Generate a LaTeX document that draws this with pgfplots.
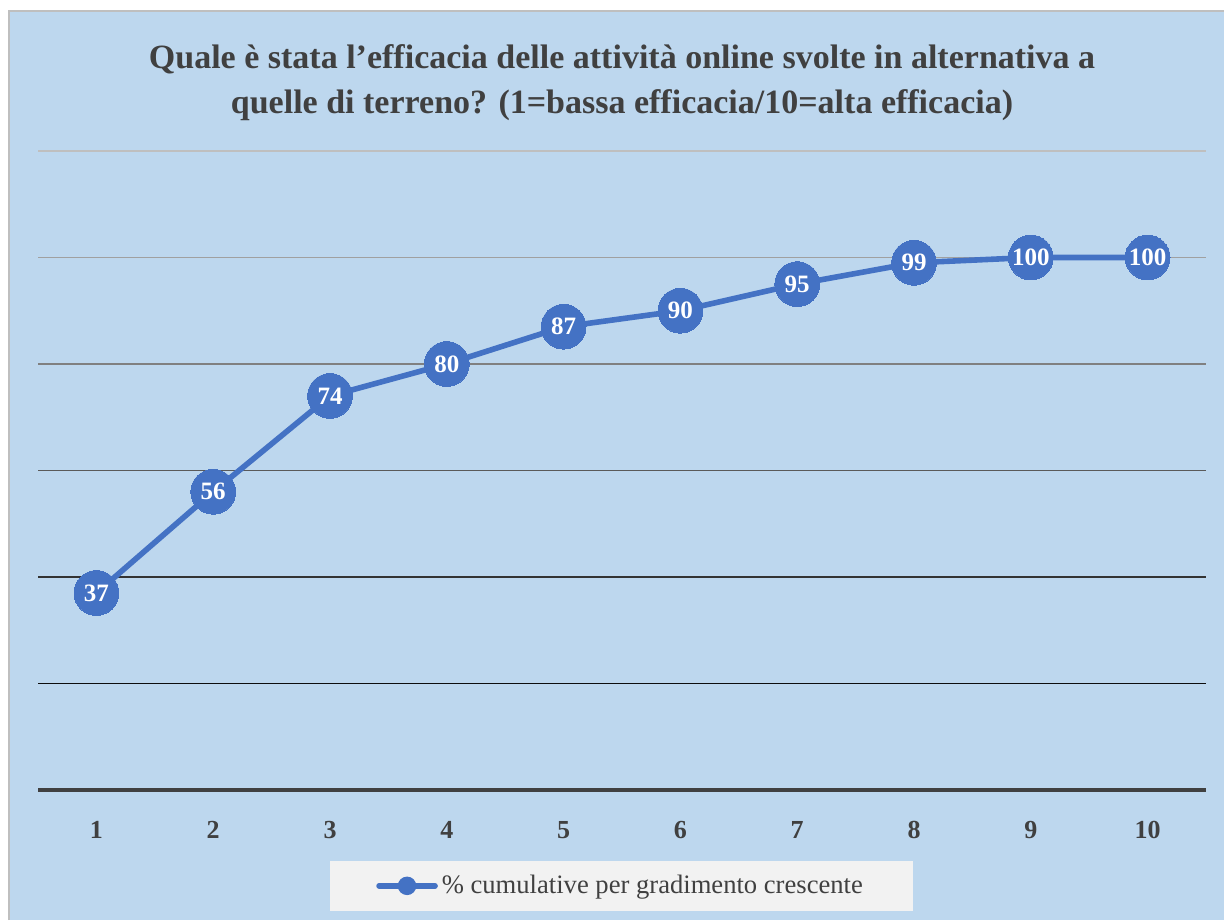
\documentclass[border=0pt]{standalone}
\usepackage{fontspec}
\setmainfont{Liberation Serif}
\usepackage{pgfplots}
\pgfplotsset{compat=1.18}
\definecolor{bgblue}{HTML}{BDD7EE}
\definecolor{lineblue}{HTML}{4472C4}
\definecolor{txt}{HTML}{404040}
\definecolor{legfill}{HTML}{F2F2F2}
\definecolor{g120}{HTML}{BFBFBF}
\definecolor{g100}{HTML}{A0A0A0}
\definecolor{g80}{HTML}{808080}
\definecolor{g60}{HTML}{5A5A5A}
\definecolor{g40}{HTML}{333333}
\definecolor{g20}{HTML}{0D0D0D}
\begin{document}
\begin{tikzpicture}
\useasboundingbox (0,0) rectangle (612pt,460pt);
\fill[white] (0,0) rectangle (612pt,460pt);
\fill[bgblue] (4.5pt,0) rectangle (612pt,454.5pt);
\draw[g120,line width=1pt] (4.5pt,0) -- (4.5pt,454.5pt) -- (612pt,454.5pt);
\node[align=center,text=txt,font=\fontsize{17}{22.5}\selectfont\bfseries] at (311pt,418.5pt)
 {Quale è stata l'efficacia delle attività online svolte in alternativa a\\quelle di terreno? (1=bassa efficacia/10=alta efficacia)};
\begin{axis}[
  at={(19pt,65pt)}, anchor=south west,
  scale only axis, width=584pt, height=319.5pt,
  xmin=0.5, xmax=10.5, ymin=0, ymax=120,
  hide y axis,
  axis x line*=bottom,
  x axis line style={txt,line width=2pt,-},
  xtick={1,...,10}, xticklabels={1,2,3,4,5,6,7,8,9,10},
  xtick style={draw=none},
  xticklabel style={text=txt,font=\fontsize{13}{15}\selectfont\bfseries,yshift=-12pt},
  clip=false,
  /pgf/number format/assume math mode=true,
  legend style={at={(0.4996,-0.150)},anchor=center,fill=legfill,draw=none,
    inner xsep=23pt,inner ysep=5pt,text=txt,font=\fontsize{13.3}{16}\selectfont},
  legend image code/.code={
    \draw[lineblue,line width=2.8pt,line cap=round] (0pt,0pt) -- (28pt,0pt);
    \fill[lineblue] (14pt,0pt) circle (3.2pt);},
]
\draw[g120,line width=0.9pt] (axis cs:0.5,120) -- (axis cs:10.5,120);
\draw[g100,line width=0.9pt] (axis cs:0.5,100) -- (axis cs:10.5,100);
\draw[g80,line width=0.9pt] (axis cs:0.5,80) -- (axis cs:10.5,80);
\draw[g60,line width=0.9pt] (axis cs:0.5,60) -- (axis cs:10.5,60);
\draw[g40,line width=0.9pt] (axis cs:0.5,40) -- (axis cs:10.5,40);
\draw[g20,line width=0.9pt] (axis cs:0.5,20) -- (axis cs:10.5,20);
\addplot[lineblue,line width=2.8pt,mark=*,mark size=11.2pt,mark options={fill=lineblue,draw=lineblue,line width=0pt},
  nodes near coords,
  every node near coord/.append style={anchor=center,text=white,font=\fontsize{12.5}{14}\selectfont\bfseries}]
 coordinates {(1,37) (2,56) (3,74) (4,80) (5,87) (6,90) (7,95) (8,99) (9,100) (10,100)};
\addlegendentry{\% cumulative per gradimento crescente}
\end{axis}
\end{tikzpicture}
\end{document}
